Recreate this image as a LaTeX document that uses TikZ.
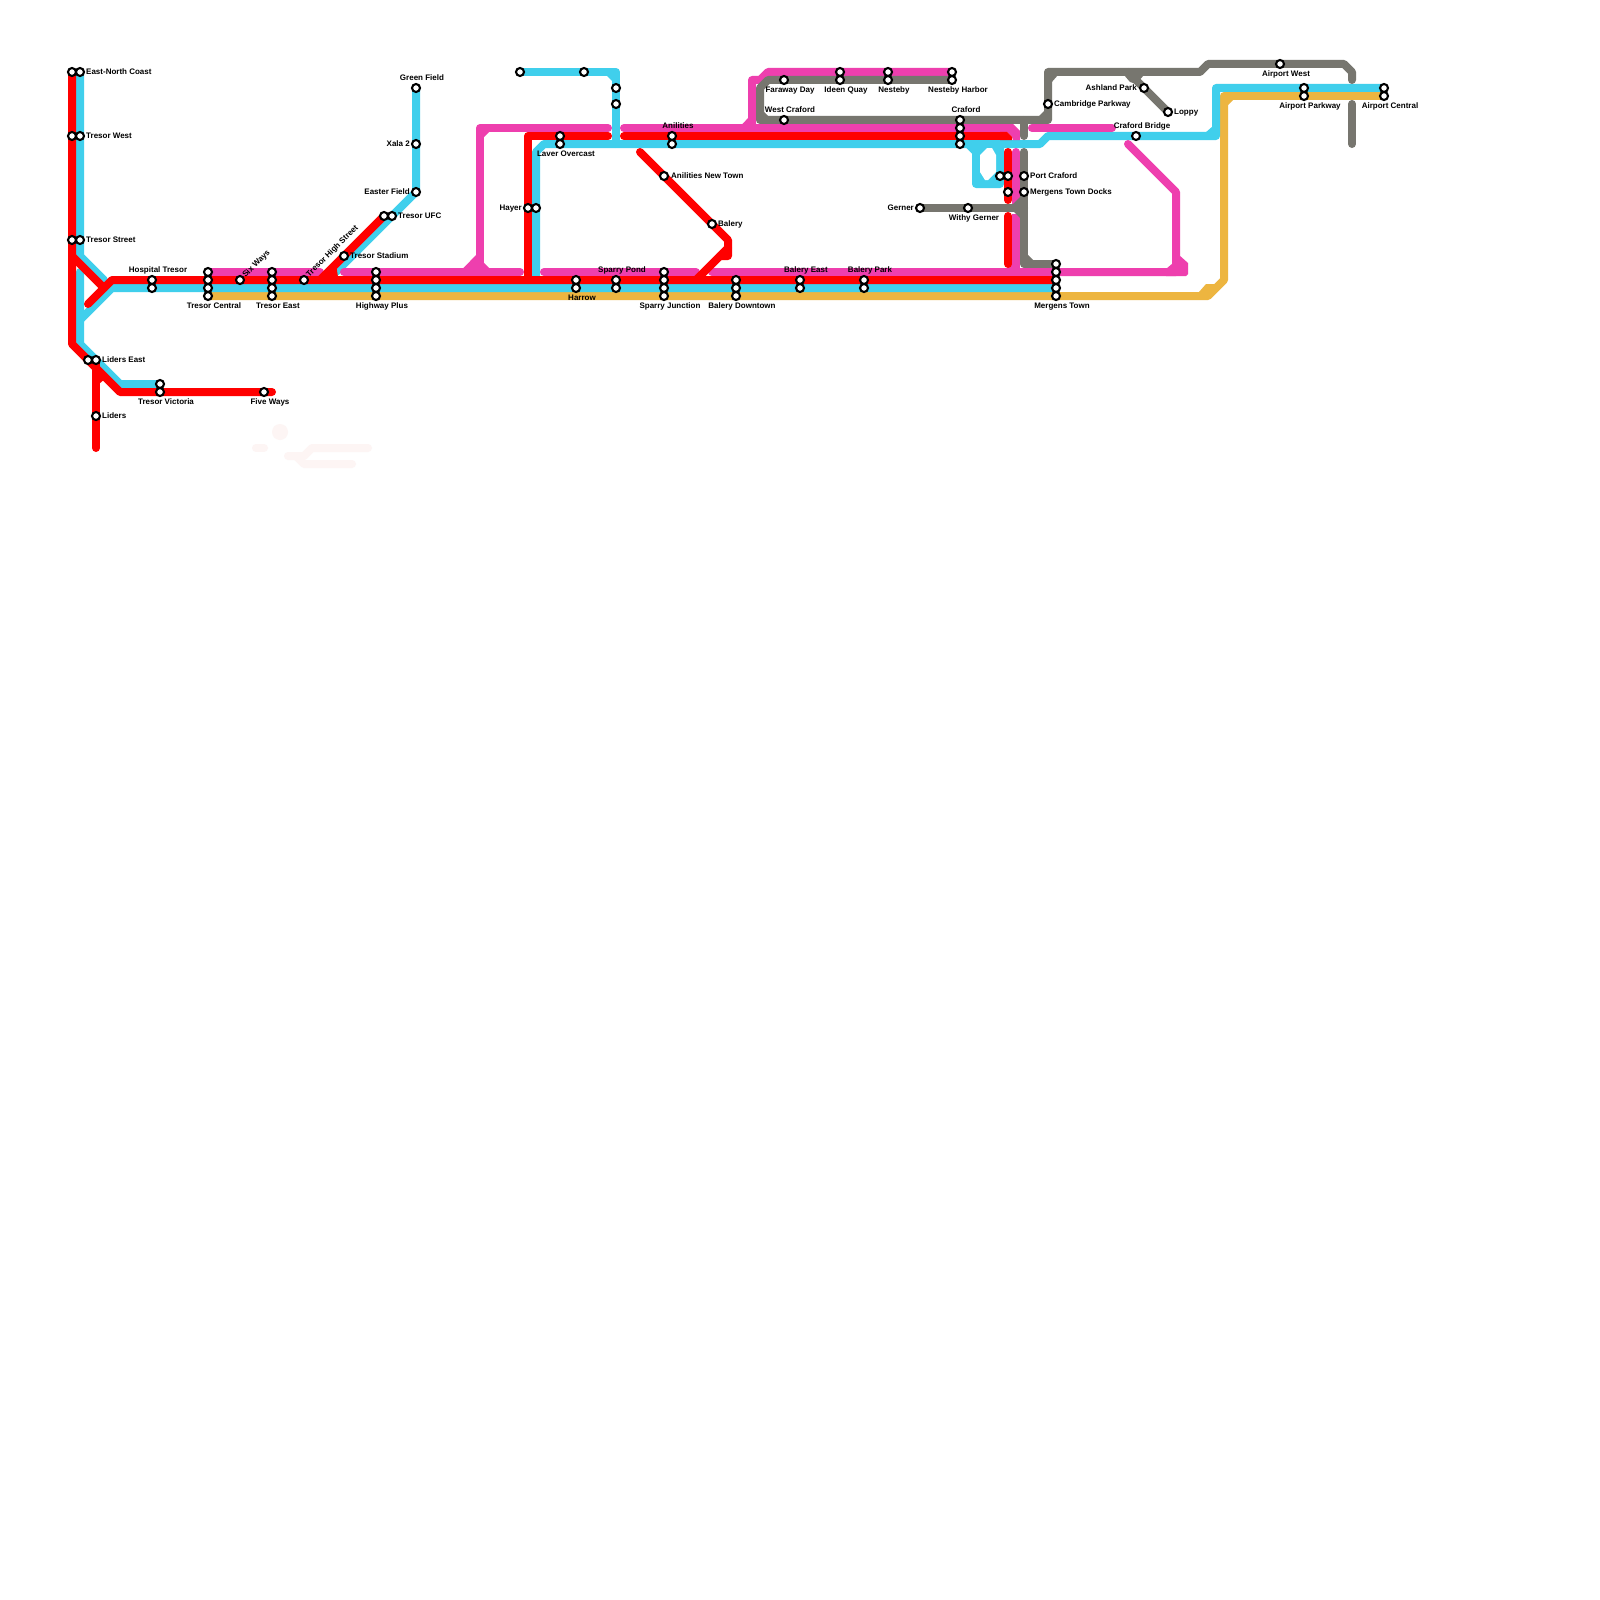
\documentclass[tikz,border=0pt]{standalone}
\usepackage{fontspec}
\setmainfont{Liberation Sans}
\pgfdeclarelayer{lines}
\pgfsetlayers{lines,main}
\definecolor{lred}{HTML}{FF0000}
\definecolor{lblue}{HTML}{40CFEC}
\definecolor{lpink}{HTML}{EE3FAE}
\definecolor{lgray}{HTML}{77766F}
\definecolor{lyellow}{HTML}{EDB540}
\definecolor{ghost}{HTML}{FDF5F4}
\tikzset{
  stn/.style={circle,draw=black,fill=white,line width=2.1pt,minimum size=8pt,inner sep=0pt,outer sep=0pt},
  route/.style={line width=8pt,line cap=round,line join=round},
  rr/.style={route,draw=lred},
  rb/.style={route,draw=lblue},
  rp/.style={route,draw=lpink},
  rg/.style={route,draw=lgray},
  ry/.style={route,draw=lyellow},
  rghost/.style={route,draw=ghost},
  lab/.style={font=\fontsize{8}{10}\selectfont\bfseries,inner sep=0pt,text height=6pt,text depth=0.4pt,text=black,yshift=-0.7pt},
  lw/.style={lab,anchor=west},
  le/.style={lab,anchor=east},
  lc/.style={lab,anchor=center},
}
\newcommand{\stnat}[3]{\node[stn] (#1) at (#2,#3) {};}
\begin{document}
\begin{tikzpicture}[x=1pt,y=-1pt]
\useasboundingbox (0,0) rectangle (1600,1600);
% stations
\stnat{enc1}{72}{72}\stnat{enc2}{80}{72}
\stnat{tw1}{72}{136}\stnat{tw2}{80}{136}
\stnat{ts1}{72}{240}\stnat{ts2}{80}{240}
\stnat{le1}{88}{360}\stnat{le2}{96}{360}
\stnat{li}{96}{416}
\stnat{tv1}{160}{384}\stnat{tv2}{160}{392}
\stnat{fw}{264}{392}
\stnat{ht1}{152}{280}\stnat{ht2}{152}{288}
\stnat{tc1}{208}{272}\stnat{tc2}{208}{280}\stnat{tc3}{208}{288}\stnat{tc4}{208}{296}
\stnat{sw}{240}{280}
\stnat{te1}{272}{272}\stnat{te2}{272}{280}\stnat{te3}{272}{288}\stnat{te4}{272}{296}
\stnat{ths}{304}{280}
\stnat{tst}{344}{256}
\stnat{uf1}{384}{216}\stnat{uf2}{392}{216}
\stnat{hp1}{376}{272}\stnat{hp2}{376}{280}\stnat{hp3}{376}{288}\stnat{hp4}{376}{296}
\stnat{ef}{416}{192}\stnat{xa}{416}{144}\stnat{gf}{416}{88}
\stnat{b1}{520}{72}\stnat{b2}{584}{72}\stnat{b3}{616}{88}\stnat{b4}{616}{104}
\stnat{lo1}{560}{136}\stnat{lo2}{560}{144}
\stnat{ha1}{528}{208}\stnat{ha2}{536}{208}
\stnat{hr1}{576}{280}\stnat{hr2}{576}{288}
\stnat{sp1}{616}{280}\stnat{sp2}{616}{288}
\stnat{sj1}{664}{272}\stnat{sj2}{664}{280}\stnat{sj3}{664}{288}\stnat{sj4}{664}{296}
\stnat{an1}{672}{136}\stnat{an2}{672}{144}
\stnat{ant}{664}{176}
\stnat{ba}{712}{224}
\stnat{bd1}{736}{280}\stnat{bd2}{736}{288}\stnat{bd3}{736}{296}
\stnat{be1}{800}{280}\stnat{be2}{800}{288}
\stnat{bp1}{864}{280}\stnat{bp2}{864}{288}
\stnat{fd}{784}{80}\stnat{wc}{784}{120}
\stnat{iq1}{840}{72}\stnat{iq2}{840}{80}
\stnat{ne1}{888}{72}\stnat{ne2}{888}{80}
\stnat{nh1}{952}{72}\stnat{nh2}{952}{80}
\stnat{cr1}{960}{120}\stnat{cr2}{960}{128}\stnat{cr3}{960}{136}\stnat{cr4}{960}{144}
\stnat{ge}{920}{208}\stnat{wg}{968}{208}
\stnat{pc1}{1000}{176}\stnat{pc2}{1008}{176}\stnat{pc3}{1024}{176}
\stnat{md1}{1008}{192}\stnat{md2}{1024}{192}
\stnat{cp}{1048}{104}
\stnat{mt1}{1056}{264}\stnat{mt2}{1056}{272}\stnat{mt3}{1056}{280}\stnat{mt4}{1056}{288}\stnat{mt5}{1056}{296}
\stnat{ash}{1144}{88}\stnat{lop}{1168}{112}
\stnat{cb}{1136}{136}
\stnat{aw}{1280}{64}
\stnat{ap1}{1304}{88}\stnat{ap2}{1304}{96}
\stnat{ac1}{1384}{88}\stnat{ac2}{1384}{96}
% labels
\node[lw] (tenc) at (86,71) {East-North Coast};
\node[lw] (ttw) at (86,135) {Tresor West};
\node[lw] (tts) at (86,239) {Tresor Street};
\node[lc] (tht) at (158,269) {Hospital Tresor};
\node[lc] (ttc) at (214,305) {Tresor Central};
\node[lc] (tte) at (278,305) {Tresor East};
\node[lc] (thp) at (382,305) {Highway Plus};
\node[lc,rotate=45] (tsw) at (256,263) {Six Ways};
\node[lc,rotate=45] (tths) at (332,250) {Tresor High Street};
\node[lw] (ttst) at (350,255) {Tresor Stadium};
\node[lw] (tuf) at (398,215) {Tresor UFC};
\node[lc] (tgf) at (422,77) {Green Field};
\node[le] (txa) at (410,143) {Xala 2};
\node[le] (tef) at (410,191) {Easter Field};
\node[lw] (tle) at (102,359) {Liders East};
\node[lw] (tli) at (102,415) {Liders};
\node[lc] (ttv) at (166,401) {Tresor Victoria};
\node[lc] (tfw) at (270,401) {Five Ways};
\node[lc] (tan) at (678,125) {Anilities};
\node[lc] (tlo) at (566,153) {Laver Overcast};
\node[lw] (tant) at (671,175) {Anilities New Town};
\node[lw] (tba) at (718,223) {Balery};
\node[le] (tha) at (522,207) {Hayer};
\node[lc] (tsp) at (622,269) {Sparry Pond};
\node[lc] (thr) at (582,297) {Harrow};
\node[lc] (tsj) at (670,305) {Sparry Junction};
\node[lc] (tbd) at (742,305) {Balery Downtown};
\node[lc] (tfd) at (790,89) {Faraway Day};
\node[lc] (twc) at (790,109) {West Craford};
\node[lc] (tiq) at (846,89) {Ideen Quay};
\node[lc] (tne) at (894,89) {Nesteby};
\node[lc] (tnh) at (958,89) {Nesteby Harbor};
\node[lc] (tcr) at (966,109) {Craford};
\node[le] (tge) at (914,207) {Gerner};
\node[lc] (twg) at (974,217) {Withy Gerner};
\node[lw] (tpc) at (1030,175) {Port Craford};
\node[lw] (tmd) at (1030,191) {Mergens Town Docks};
\node[lc] (tbe) at (806,269) {Balery East};
\node[lc] (tbp) at (870,269) {Balery Park};
\node[lc] (tmt) at (1062,305) {Mergens Town};
\node[lw] (tcp) at (1054,103) {Cambridge Parkway};
\node[le] (tash) at (1137,87) {Ashland Park};
\node[lw] (tlop) at (1174,111) {Loppy};
\node[lc] (tcb) at (1142,125) {Craford Bridge};
\node[lc] (taw) at (1286,73) {Airport West};
\node[lc] (tap) at (1310,105) {Airport Parkway};
\node[lc] (tac) at (1390,105) {Airport Central};
\begin{pgfonlayer}{lines}
\fill[white] (0,0) rectangle (1600,1600);
% faint shapes
\fill[ghost] (280,432) circle (8);
\draw[rghost] (256,448) -- (264,448);
\draw[rghost] (288,456) -- (304,456) -- (312,448) -- (368,448);
\draw[rghost] (296,456) -- (304,464) -- (352,464);
% yellow
\draw[ry] (tc4.center) -- (1208,296) -- (1224,280) -- (1224,96) -- (ac2.center);
\fill[lyellow] (1199,292) -- (1206,284) -- (1215,284) -- (1220,280) -- (1220,288) -- (1212,294) -- cycle;
\fill[lyellow] (1227,106) -- (1233,100) -- (1227,100) -- cycle;
% blue
\draw[rb] (enc2.center) -- (80,256) -- (104,280);
\draw[rb] (80,272) -- (80,344) -- (120,384) -- (tv1.center);
\draw[rb] (80,320) -- (112,288) -- (mt4.center);
\draw[rb] (gf.center) -- (ef.center) -- (336,272);
\draw[rb] (b1.center) -- (616,72) -- (616,144);
\fill[lblue] (606,75) -- (613,75) -- (613,82) -- cycle;
\draw[rb,line cap=butt] (536,276) -- (536,152) -- (544,144) -- (1040,144) -- (1048,136) -- (1216,136) -- (1216,88) -- (ac1.center);
\fill[lblue] (1205,133) -- (1213,133) -- (1213,126) -- cycle;
\draw[rb] (968,144) -- (976,152) -- (976,184) -- (1000,184) -- (1000,144);
\fill[lblue] (976,144) rectangle (1000,184);
\fill[white] (980,155) -- (987,148) -- (992,148) -- (996,155) -- (996,172) -- (988,180) -- (985,180) -- (980,172) -- cycle;
% pink
\draw[rp] (tc1.center) -- (320,272);
\draw[rp] (608,128) -- (480,128) -- (480,272) -- (520,272);
\draw[rp] (344,272) -- (480,272);
\fill[lpink] (463,268.5) -- (477,254) -- (477,268.5) -- cycle;
\fill[lpink] (483,131) -- (490,131) -- (483,138) -- cycle;
\fill[lpink] (483,269) -- (490,269) -- (483,262) -- cycle;
\draw[rp] (544,272) -- (696,272);
\draw[rp] (712,272) -- (1176,272) -- (1176,192) -- (1128,144);
\fill[lpink] (1166,269) -- (1173,263) -- (1179,255) -- (1188,263) -- (1188,274) -- (1186,276) -- (1166,276) -- cycle;
\draw[rp] (1004,128) -- (624,128);
\draw[rp,line cap=butt] (752,128) -- (752,80) -- (760,80) -- (768,72) -- (nh1.center);
\fill[lpink] (742,124.5) -- (749,124.5) -- (749,117) -- cycle;
\fill[lpink] (1000,124) -- (1013,124) -- (1020,131) -- (1020,140) -- (1013,140) -- (1012,137) -- (1007,132) -- (1000,132) -- cycle;
\draw[rp] (1032,128) -- (1112,128);
\draw[rp] (1016,152) -- (1016,204);
\draw[rp,line cap=butt] (1016,214) -- (1016,268);
\fill[lpink] (1006,269) -- (1013,269) -- (1013,262) -- cycle;
% gray
\draw[rg] (nh2.center) -- (768,80) -- (760,88) -- (760,120) -- (1048,120) -- (1048,72) -- (1200,72) -- (1208,64) -- (1344,64) -- (1352,72) -- (1352,80);
\fill[lgray] (1051,75) -- (1058,75) -- (1051,83) -- cycle;
\fill[lgray] (763,111) -- (763,117) -- (769,117) -- cycle;
\fill[lgray] (1038,117) -- (1045,117) -- (1045,110) -- cycle;
\draw[rg] (1128,72) -- (ash.center) -- (lop.center);
\fill[lgray] (1124,75) -- (1144,75) -- (1136,84) -- (1130,82) -- cycle;
\draw[rg] (1352,104) -- (1352,144);
\draw[rg] (1024,120) -- (1024,136);
\draw[rg] (1024,152) -- (1024,264) -- (mt1.center);
\fill[lgray] (1027,254) -- (1034,261) -- (1027,261) -- cycle;
\draw[rg] (ge.center) -- (1024,208);
\fill[lgray] (1012,205) -- (1021,205) -- (1021,196) -- cycle;
\fill[lgray] (1013,211) -- (1021,211) -- (1021,219) -- cycle;
% red
\draw[rr] (enc1.center) -- (72,344) -- (120,392) -- (272,392);
\draw[rr] (72,256) -- (104,288);
\draw[rr] (88,304) -- (112,280) -- (mt3.center);
\draw[rr] (le2.center) -- (96,448);
\fill[lred] (99,376) -- (99,384) -- (106,378) -- cycle;
\draw[rr] (uf1.center) -- (320,280);
\fill[lred] (322,277) -- (336,264) -- (338,277) -- cycle;
\draw[rr] (608,136) -- (528,136) -- (528,280);
\draw[rr] (624,136) -- (1004,136);
\fill[lred] (1000,132) -- (1007,132) -- (1012,137) -- (1012,140) -- (1000,140) -- cycle;
\draw[rr] (640,152) -- (ant.center) -- (ba.center) -- (728,240) -- (728,256) -- (720,256);
\draw[rr] (728,248) -- (696,280);
\draw[rr] (1008,152) -- (1008,200);
\draw[rr] (1008,216) -- (1008,264);
\end{pgfonlayer}
\end{tikzpicture}
\end{document}
